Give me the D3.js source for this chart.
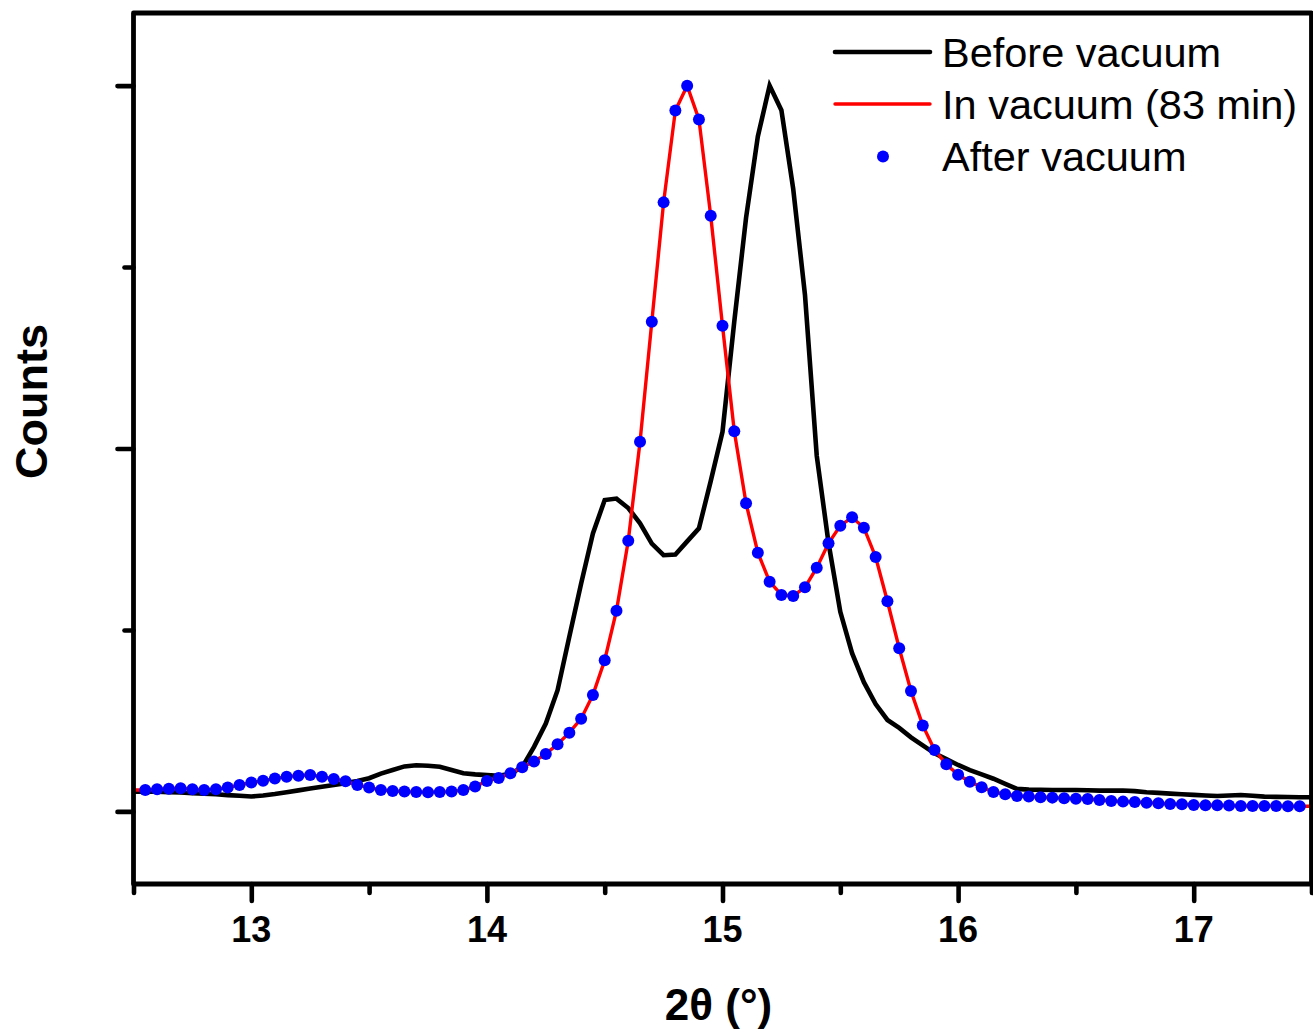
<!DOCTYPE html>
<html>
<head>
<meta charset="utf-8">
<script src="https://cdn.jsdelivr.net/npm/d3@7"></script>
<style>
  html, body { margin: 0; padding: 0; background: #fff; }
  svg { display: block; }
  text { font-family: "Liberation Sans", Arial, sans-serif; }
</style>
</head>
<body>
<svg id="chart" width="1313" height="1031"></svg>
<script>
// ---- data ----
const twoTheta = [
  12.50, 12.55, 12.60, 12.65, 12.70, 12.75, 12.80, 12.85, 12.90, 12.95,
  13.00, 13.05, 13.10, 13.15, 13.20, 13.25, 13.30, 13.35, 13.40, 13.45,
  13.50, 13.55, 13.60, 13.65, 13.70, 13.75, 13.80, 13.85, 13.90, 13.95,
  14.00, 14.05, 14.10, 14.15, 14.20, 14.25, 14.30, 14.35, 14.40, 14.45,
  14.50, 14.55, 14.60, 14.65, 14.70, 14.75, 14.80, 14.85, 14.90, 14.95,
  15.00, 15.05, 15.10, 15.15, 15.20, 15.25, 15.30, 15.35, 15.40, 15.45,
  15.50, 15.55, 15.60, 15.65, 15.70, 15.75, 15.80, 15.85, 15.90, 15.95,
  16.00, 16.05, 16.10, 16.15, 16.20, 16.25, 16.30, 16.35, 16.40, 16.45,
  16.50, 16.55, 16.60, 16.65, 16.70, 16.75, 16.80, 16.85, 16.90, 16.95,
  17.00, 17.05, 17.10, 17.15, 17.20, 17.25, 17.30, 17.35, 17.40, 17.45,
  17.50
];

const beforeVacuum = [
  27, 27, 27, 26.5, 26, 25, 24.5, 23.7, 22.5, 21.5,
  20.5, 22, 24, 26.5, 29, 31.5, 34, 36.5, 39, 42,
  45.7, 52, 57, 62, 63.5, 63, 61.5, 57, 52.6, 51,
  50, 49, 52, 61, 89, 121, 167, 241, 314, 383,
  429, 431, 418, 397, 369, 353, 354, 372, 390, 455,
  523, 675, 818, 930, 1000, 966, 858, 712, 490, 370,
  275, 218, 178, 148, 126, 115, 102, 91, 80, 72,
  64, 57, 51, 45, 38, 31, 30, 29.8, 29.6, 29.6,
  29.6, 29.2, 28.7, 28.7, 28.9, 28, 26.5, 25.5, 24.5, 23.7,
  22.8, 22, 21.3, 22, 22.7, 21.5, 20.4, 20, 19.8, 19.6,
  19.6
];

const inVacuum = [
  29.5, 29.6, 30.6, 31.3, 32, 30.6, 29.6, 30.6, 32.8, 36.5,
  39.7, 42.4, 45.2, 47.9, 49.3, 50.3, 47.9, 44.8, 41.6, 36.5,
  32.8, 29.6, 28.2, 27.3, 26.9, 26.4, 26.9, 27.3, 29.6, 34.2,
  42, 46, 52.6, 60.9, 68.6, 79.2, 92.6, 108.5, 127.8, 160.5,
  208.3, 276.6, 373, 509.4, 674.7, 839.1, 965.8, 999.7, 953.4, 820.7,
  669.1, 523.7, 424.5, 356.5, 316.5, 298.2, 296.8, 308.8, 335.8, 369.4,
  393.7, 405.2, 390.9, 350.6, 289.5, 224.8, 166, 118.5, 84.7, 65,
  50.5, 41, 33.3, 26.9, 23.7, 21.3, 20.4, 19.6, 19, 18.2,
  17.6, 17.2, 15.8, 14.5, 13.5, 13.1, 12.1, 11.3, 10.3, 9.9,
  9, 8.5, 8.5, 8, 7.6, 7.6, 7.6, 7.6, 7.2, 7.2,
  7.2
];

const afterVacuum = [
  null, 29.6, 30.6, 31.3, 32, 30.6, 29.6, 30.6, 32.8, 36.5,
  39.7, 42.4, 45.2, 47.9, 49.3, 50.3, 47.9, 44.8, 41.6, 36.5,
  32.8, 29.6, 28.2, 27.3, 26.9, 26.4, 26.9, 27.3, 29.6, 34.2,
  42, 46, 52.6, 60.9, 68.6, 79.2, 92.6, 108.5, 127.8, 160.5,
  208.3, 276.6, 373, 509.4, 674.7, 839.1, 965.8, 999.7, 953.4, 820.7,
  669.1, 523.7, 424.5, 356.5, 316.5, 298.2, 296.8, 308.8, 335.8, 369.4,
  393.7, 405.2, 390.9, 350.6, 289.5, 224.8, 166, 118.5, 84.7, 65,
  50.5, 41, 33.3, 26.9, 23.7, 21.3, 20.4, 19.6, 19, 18.2,
  17.6, 17.2, 15.8, 14.5, 13.5, 13.1, 12.1, 11.3, 10.3, 9.9,
  9, 8.5, 8.5, 8, 7.6, 7.6, 7.6, 7.6, 7.2, 7.2,
  null
];

const xMajorTicks = [13, 14, 15, 16, 17];
const xMinorTicks = [12.5, 13.5, 14.5, 15.5, 16.5, 17.5];
const yMajorTicks = [0, 500, 1000];
const yMinorTicks = [250, 750];
const seriesNames = ["Before vacuum", "In vacuum (83 min)", "After vacuum"];
const xTitle = "2θ (°)";
const yTitle = "Counts";

(function draw() {
  const pLeft = 133.5, pRight = 1311.5, pTop = 13, pBottom = 884;
  const svg = d3.select("#chart");

  const x = d3.scaleLinear().domain([12.5, 17.5]).range([pLeft, pRight]);
  const y = d3.scaleLinear().domain([-100, 1100]).range([pBottom, pTop]);

  svg.append("defs").append("clipPath").attr("id", "clip")
    .append("rect").attr("x", pLeft).attr("y", pTop)
    .attr("width", pRight - pLeft).attr("height", pBottom - pTop);

  const data = twoTheta.map((t, i) => ({ t, b: beforeVacuum[i], r: inVacuum[i], a: afterVacuum[i] }));

  const lineB = d3.line().x(d => x(d.t)).y(d => y(d.b));
  const lineR = d3.line().x(d => x(d.t)).y(d => y(d.r));

  const dataG = svg.append("g").attr("clip-path", "url(#clip)");
  dataG.append("path").datum(data).attr("d", lineB)
    .attr("fill", "none").attr("stroke", "#000").attr("stroke-width", 4.6);
  dataG.append("path").datum(data).attr("d", lineR)
    .attr("fill", "none").attr("stroke", "#ff0000").attr("stroke-width", 3.4);
  dataG.selectAll("circle.pt").data(data.filter(d => d.a != null)).enter()
    .append("circle").attr("class", "pt")
    .attr("cx", d => x(d.t)).attr("cy", d => y(d.a)).attr("r", 6)
    .attr("fill", "#0000ff");

  const xAxisMajor = d3.axisBottom(x).tickValues(xMajorTicks).tickSize(17).tickFormat("").tickSizeOuter(0);
  const xAxisMinor = d3.axisBottom(x).tickValues(xMinorTicks).tickSize(9).tickFormat("").tickSizeOuter(0);
  const yAxisMajor = d3.axisLeft(y).tickValues(yMajorTicks).tickSize(16).tickFormat("").tickSizeOuter(0);
  const yAxisMinor = d3.axisLeft(y).tickValues(yMinorTicks).tickSize(9).tickFormat("").tickSizeOuter(0);

  function styleAxis(g) {
    g.select(".domain").remove();
    g.selectAll(".tick line").attr("stroke", "#000").attr("stroke-width", 4.6).attr("stroke-linecap", "round");
  }
  svg.append("g").attr("transform", `translate(0,${pBottom})`).call(xAxisMajor).call(styleAxis);
  svg.append("g").attr("transform", `translate(0,${pBottom})`).call(xAxisMinor).call(styleAxis);
  svg.append("g").attr("transform", `translate(${pLeft},0)`).call(yAxisMajor).call(styleAxis);
  svg.append("g").attr("transform", `translate(${pLeft},0)`).call(yAxisMinor).call(styleAxis);

  svg.append("g").selectAll("text").data(xMajorTicks).enter().append("text")
    .attr("x", d => x(d)).attr("y", 942)
    .attr("text-anchor", "middle")
    .attr("font-size", 36).attr("font-weight", "bold").attr("fill", "#000")
    .text(d => d);

  svg.append("rect").attr("x", pLeft).attr("y", pTop)
    .attr("width", pRight - pLeft).attr("height", pBottom - pTop)
    .attr("fill", "none").attr("stroke", "#000").attr("stroke-width", 4.8).attr("stroke-linejoin", "round");

  svg.append("text").attr("x", (pLeft + pRight) / 2 - 4).attr("y", 1020)
    .attr("text-anchor", "middle").attr("font-size", 44).attr("font-weight", "bold").text(xTitle);
  svg.append("text").attr("transform", `translate(47,${(pTop + pBottom) / 2 - 47}) rotate(-90)`)
    .attr("text-anchor", "middle").attr("font-size", 45).attr("font-weight", "bold").text(yTitle);

  const legend = svg.append("g");
  const legY = [52, 104, 156.5];
  legend.append("line").attr("x1", 835).attr("x2", 930).attr("y1", legY[0]).attr("y2", legY[0])
    .attr("stroke", "#000").attr("stroke-width", 4.6).attr("stroke-linecap", "round");
  legend.append("line").attr("x1", 835).attr("x2", 930).attr("y1", legY[1]).attr("y2", legY[1])
    .attr("stroke", "#ff0000").attr("stroke-width", 3.4).attr("stroke-linecap", "round");
  legend.append("circle").attr("cx", 883).attr("cy", legY[2]).attr("r", 6).attr("fill", "#0000ff");
  legend.selectAll("text").data(seriesNames).enter().append("text")
    .attr("x", 942).attr("y", (d, i) => legY[i] + 14.5)
    .attr("font-size", 41.5).attr("fill", "#000").text(d => d);
})();
</script>
</body>
</html>
